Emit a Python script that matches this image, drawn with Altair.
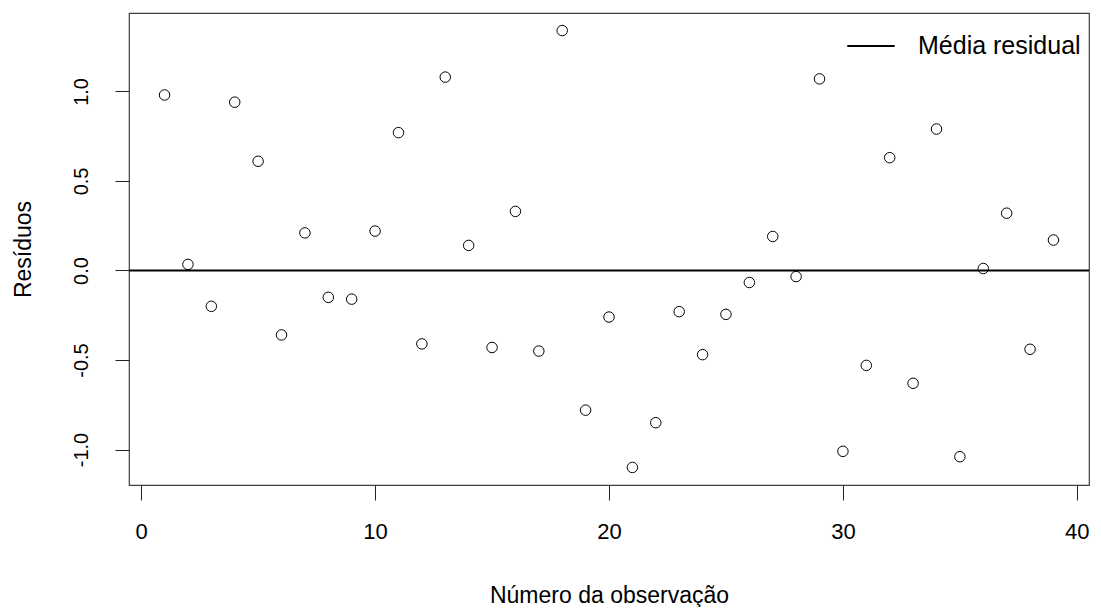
import altair as alt
import pandas as pd

obs = list(range(1, 40))
residuals = [0.98, 0.034, -0.20, 0.94, 0.61, -0.36, 0.21, -0.15, -0.16, 0.22,
             0.77, -0.41, 1.08, 0.14, -0.43, 0.33, -0.45, 1.34, -0.78, -0.26,
             -1.10, -0.85, -0.23, -0.47, -0.245, -0.067, 0.19, -0.034, 1.07, -1.01,
             -0.53, 0.63, -0.63, 0.79, -1.04, 0.011, 0.32, -0.44, 0.17]
mean_label = ["Média residual"]
mean_value = [0.0]
x_ticks = [0, 10, 20, 30, 40]
y_ticks = [-1.0, -0.5, 0.0, 0.5, 1.0]

df = pd.DataFrame({"obs": obs, "res": residuals})
dm = pd.DataFrame({"label": mean_label, "value": mean_value})

FONT = "Liberation Sans"
xs = alt.Scale(domain=[-0.52, 40.52], nice=False, zero=False)
ys = alt.Scale(domain=[-1.198, 1.438], nice=False, zero=False)

points = alt.Chart(df).mark_point(shape="circle", filled=False, color="black",
                                  size=110, strokeWidth=1, opacity=1).encode(
    x=alt.X("obs:Q", scale=xs, title="Número da observação",
            axis=alt.Axis(values=x_ticks, format="d", domain=False, grid=False,
                          tickSize=15, tickColor="#222222", labelFontSize=22,
                          labelPadding=21, titleFontSize=23, titlePadding=42,
                          titleFontWeight="normal", labelColor="black",
                          titleColor="black", labelFont=FONT, titleFont=FONT)),
    y=alt.Y("res:Q", scale=ys, title="Resíduos",
            axis=alt.Axis(values=y_ticks, domain=False, grid=False,
                          tickSize=14, tickColor="#222222", labelFontSize=20,
                          labelAngle=-90, labelAlign="center", labelBaseline="bottom",
                          labelPadding=24,
                          labelExpr="replace(format(datum.value, '.1f'), '\u2212', '-')",
                          titleFontSize=23, titlePadding=36, titleFontWeight="normal",
                          labelColor="black", titleColor="black",
                          labelFont=FONT, titleFont=FONT)),
)

rule = alt.Chart(dm).mark_rule(strokeWidth=2).encode(
    y=alt.Y("value:Q", scale=ys),
    color=alt.Color("label:N", scale=alt.Scale(range=["black"]),
                    legend=alt.Legend(title=None, orient="none", legendX=717, legendY=8,
                                      symbolType="stroke", symbolSize=2250,
                                      symbolStrokeWidth=2, labelFontSize=25,
                                      labelLimit=400,
                                      labelFont=FONT, labelColor="black",
                                      labelOffset=22)),
)

chart = alt.layer(rule, points).properties(
    width=960, height=472,
    background="white",
    padding={"left": 121, "top": 5, "right": 4, "bottom": 122},
    autosize=alt.AutoSizeParams(type="none"),
).configure_view(stroke="#404040", strokeWidth=1.2)

chart.save("out.html", embed_options={"renderer": "svg", "actions": False})
